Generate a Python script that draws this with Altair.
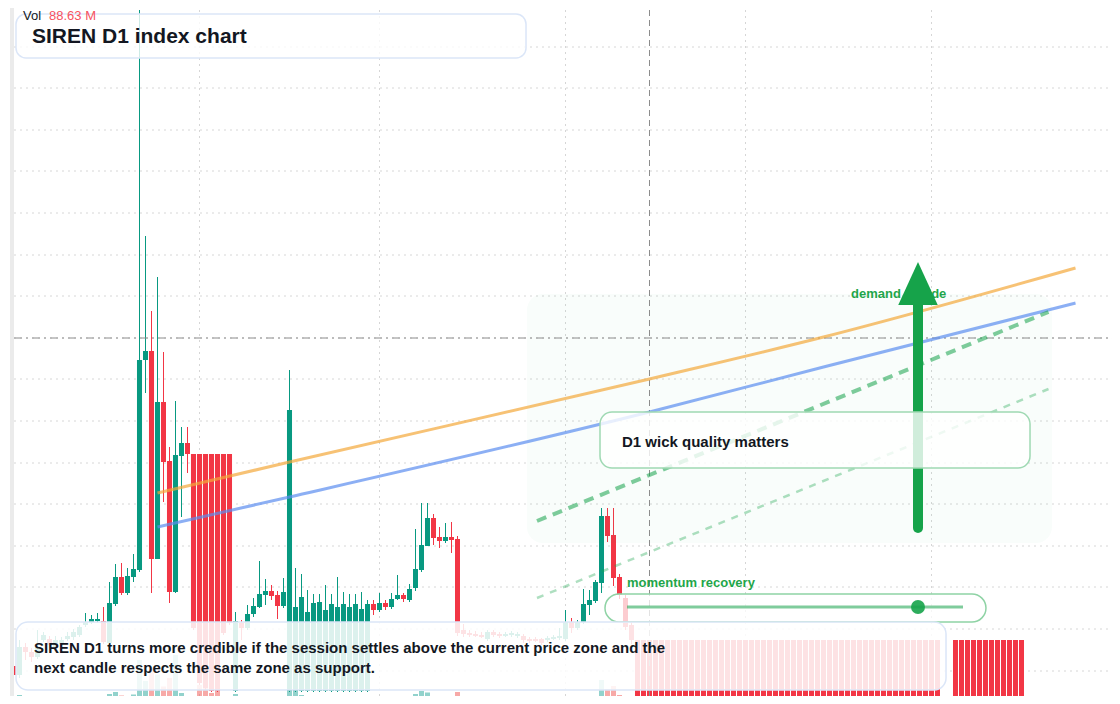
import altair as alt
import pandas as pd

# ---------------- data: daily candles (price), index = day number ----------------
idx_main = list(range(-1, 103))
open_main = [
    0.038,
    0.029, 0.057, 0.052, 0.047, 0.064, 0.065, 0.057, 0.060, 0.065, 0.067,
    0.069, 0.079, 0.082, 0.083, 0.083, 0.061, 0.100, 0.127, 0.111, 0.127,
    0.134, 0.344, 0.353, 0.145, 0.302, 0.243, 0.112, 0.248, 0.261, 0.250,
    0.250, 0.250, 0.250, 0.250, 0.250, 0.250, 0.013, 0.081, 0.076, 0.090,
    0.097, 0.109, 0.113, 0.109, 0.098, 0.013, 0.013, 0.013, 0.013, 0.013,
    0.013, 0.013, 0.013, 0.013, 0.013, 0.013, 0.013, 0.013, 0.013, 0.100,
    0.094, 0.101, 0.097, 0.105, 0.109, 0.104, 0.116, 0.134, 0.158, 0.186,
    0.167, 0.163, 0.167, 0.165, 0.074, 0.071, 0.070, 0.069, 0.065, 0.072,
    0.070, 0.068, 0.069, 0.068, 0.068, 0.065, 0.065, 0.065, 0.064, 0.065,
    0.066, 0.065, 0.082, 0.076, 0.082, 0.099, 0.103, 0.121, 0.188, 0.169,
    0.127, 0.106, 0.079,
]
high_main = [
    0.040,
    0.064, 0.061, 0.056, 0.074, 0.072, 0.068, 0.068, 0.067, 0.072, 0.075,
    0.079, 0.091, 0.089, 0.091, 0.097, 0.122, 0.140, 0.141, 0.136, 0.150,
    0.694, 0.468, 0.393, 0.427, 0.352, 0.257, 0.303, 0.277, 0.277, 0.250,
    0.250, 0.250, 0.250, 0.250, 0.250, 0.250, 0.092, 0.084, 0.099, 0.106,
    0.143, 0.125, 0.119, 0.113, 0.126, 0.334, 0.136, 0.130, 0.114, 0.110,
    0.110, 0.119, 0.110, 0.127, 0.112, 0.110, 0.110, 0.112, 0.104, 0.104,
    0.111, 0.104, 0.111, 0.129, 0.111, 0.120, 0.175, 0.201, 0.201, 0.190,
    0.177, 0.181, 0.182, 0.168, 0.080, 0.074, 0.073, 0.072, 0.074, 0.074,
    0.072, 0.072, 0.073, 0.072, 0.070, 0.067, 0.067, 0.066, 0.068, 0.069,
    0.076, 0.094, 0.086, 0.084, 0.115, 0.114, 0.124, 0.196, 0.196, 0.196,
    0.130, 0.109, 0.082,
]
low_main = [
    0.026,
    0.026, 0.044, 0.042, 0.045, 0.062, 0.056, 0.054, 0.058, 0.063, 0.064,
    0.067, 0.077, 0.080, 0.081, 0.060, 0.059, 0.098, 0.109, 0.109, 0.122,
    0.132, 0.311, 0.111, 0.145, 0.202, 0.101, 0.111, 0.187, 0.231, 0.074,
    0.019, 0.014, 0.012, 0.012, 0.069, 0.079, 0.012, 0.064, 0.074, 0.087,
    0.096, 0.099, 0.104, 0.085, 0.096, 0.012, 0.012, 0.012, 0.012, 0.012,
    0.012, 0.012, 0.012, 0.012, 0.012, 0.012, 0.012, 0.012, 0.012, 0.089,
    0.092, 0.094, 0.095, 0.104, 0.102, 0.102, 0.113, 0.132, 0.158, 0.159,
    0.156, 0.161, 0.151, 0.068, 0.067, 0.067, 0.067, 0.066, 0.063, 0.067,
    0.066, 0.067, 0.067, 0.066, 0.061, 0.061, 0.062, 0.059, 0.062, 0.064,
    0.064, 0.063, 0.071, 0.074, 0.080, 0.089, 0.101, 0.111, 0.162, 0.118,
    0.105, 0.074, 0.060,
]
close_main = [
    0.029,
    0.057, 0.052, 0.047, 0.057, 0.069, 0.059, 0.064, 0.064, 0.068, 0.072,
    0.077, 0.082, 0.085, 0.085, 0.062, 0.101, 0.127, 0.111, 0.128, 0.135,
    0.344, 0.353, 0.145, 0.302, 0.242, 0.112, 0.249, 0.261, 0.250, 0.076,
    0.021, 0.016, 0.013, 0.013, 0.071, 0.081, 0.083, 0.076, 0.090, 0.098,
    0.110, 0.113, 0.108, 0.098, 0.112, 0.294, 0.097, 0.107, 0.092, 0.101,
    0.102, 0.094, 0.100, 0.097, 0.100, 0.097, 0.100, 0.095, 0.100, 0.094,
    0.101, 0.097, 0.105, 0.109, 0.105, 0.115, 0.135, 0.159, 0.186, 0.166,
    0.163, 0.167, 0.164, 0.071, 0.070, 0.069, 0.068, 0.067, 0.072, 0.069,
    0.068, 0.070, 0.071, 0.070, 0.064, 0.063, 0.063, 0.061, 0.066, 0.067,
    0.068, 0.082, 0.076, 0.082, 0.100, 0.104, 0.122, 0.188, 0.168, 0.126,
    0.109, 0.077, 0.064,
]
vol_main = [
    20,
    36, 14, 12, 22, 10, 12, 14, 9, 11, 13,
    18, 24, 12, 10, 30, 40, 48, 34, 30, 38,
    176, 92, 140, 118, 70, 104, 196, 44, 32, 28,
    76, 64, 44, 56, 30, 24, 40, 18, 22, 16,
    30, 14, 12, 20, 18, 150, 52, 36, 28, 22,
    20, 26, 18, 24, 16, 18, 14, 20, 12, 10,
    12, 8, 10, 16, 8, 14, 40, 52, 46, 30,
    18, 14, 20, 48, 16, 8, 6, 6, 10, 6,
    6, 5, 6, 5, 8, 6, 5, 7, 6, 5,
    8, 22, 12, 10, 26, 14, 30, 96, 60, 72,
    36, 30, 24,
]

# sell-off block (days 103-153)
idx_drop = list(range(103, 154))
open_drop = [
    0.064, 0.064, 0.064, 0.064, 0.064, 0.064, 0.064, 0.064, 0.064, 0.064,
    0.064, 0.064, 0.064, 0.064, 0.064, 0.064, 0.064, 0.064, 0.064, 0.064,
    0.064, 0.064, 0.064, 0.064, 0.064, 0.064, 0.064, 0.064, 0.064, 0.064,
    0.064, 0.064, 0.064, 0.064, 0.064, 0.064, 0.064, 0.064, 0.064, 0.064,
    0.064, 0.064, 0.064, 0.064, 0.064, 0.064, 0.064, 0.064, 0.064, 0.064,
    0.064,
]
high_drop = list(open_drop)
close_drop = [
    0.007, 0.006, 0.005, 0.006, 0.004, 0.006, 0.004, 0.003, 0.005, 0.004,
    0.005, 0.003, 0.004, 0.006, 0.004, 0.005, 0.003, 0.004, 0.005, 0.004,
    0.006, 0.004, 0.003, 0.005, 0.004, 0.005, 0.004, 0.003, 0.005, 0.004,
    0.006, 0.005, 0.004, 0.003, 0.004, 0.005, 0.004, 0.006, 0.003, 0.004,
    0.005, 0.004, 0.003, 0.005, 0.004, 0.006, 0.004, 0.005, 0.003, 0.004,
    0.005,
]
low_drop = [
    0.004, 0.003, 0.002, 0.004, 0.001, 0.004, 0.002, 0.001, 0.002, 0.001,
    0.003, 0.001, 0.002, 0.003, 0.002, 0.003, 0.001, 0.002, 0.003, 0.001,
    0.003, 0.002, 0.001, 0.003, 0.002, 0.003, 0.002, 0.001, 0.002, 0.002,
    0.003, 0.002, 0.002, 0.001, 0.002, 0.003, 0.001, 0.004, 0.001, 0.002,
    0.003, 0.002, 0.001, 0.002, 0.002, 0.003, 0.002, 0.002, 0.001, 0.002,
    0.003,
]
vol_drop = [
    28, 24, 88.63, 40, 36, 30, 34, 28, 26, 32,
    30, 28, 26, 30, 24, 28, 26, 24, 30, 28,
    26, 24, 22, 26, 28, 24, 26, 22, 24, 26,
    28, 24, 22, 26, 24, 22, 28, 26, 24, 22,
    26, 24, 22, 28, 26, 24, 22, 26, 24, 28,
    26,
]

# last sessions (days 156-167)
idx_tail = list(range(156, 168))
open_tail = [0.064, 0.064, 0.064, 0.064, 0.064, 0.064, 0.064, 0.064, 0.064, 0.064, 0.064, 0.064]
high_tail = [0.064, 0.064, 0.064, 0.064, 0.064, 0.064, 0.064, 0.064, 0.064, 0.064, 0.064, 0.064]
close_tail = [0.001, 0.001, 0.001, 0.001, 0.001, 0.001, 0.001, 0.001, 0.001, 0.001, 0.001, 0.001]
low_tail = [0.000, 0.000, 0.000, 0.000, 0.000, 0.000, 0.000, 0.000, 0.000, 0.000, 0.000, 0.000]
vol_tail = [40, 36, 42, 38, 34, 40, 36, 44, 38, 34, 40, 42]

# grid / guides
grid_prices = [0.699, 0.657, 0.616, 0.574, 0.533, 0.491, 0.449, 0.408, 0.366,
               0.325, 0.283, 0.241, 0.200, 0.158, 0.117, 0.075, 0.033]
grid_days = [30, 60, 91, 121, 152]
cross_day = 105
cross_price = 0.366

# trend curves (day, price)
trend_days = [23, 45, 105, 134, 176]
orange_prices = [0.211, 0.242, 0.325, 0.367, 0.436]
blue_prices = [0.177, 0.207, 0.292, 0.337, 0.401]
dash_days = [86.25, 171.5]
dash_hi_prices = [0.183, 0.392]
dash_lo_prices = [0.106, 0.315]

# ---------------- scales ----------------
W, H = 1104, 688
XD = [-1.9167, 182.0833]
YD = [0.008, 0.696]
xs = alt.Scale(domain=XD, nice=False, zero=False)
ys = alt.Scale(domain=YD, nice=False, zero=False)
vs = alt.Scale(domain=[0, 800], range=[696, 496], nice=False, zero=False)


def X(f):
    return alt.X(f, type="quantitative", scale=xs, axis=None)


def Y(f):
    return alt.Y(f, type="quantitative", scale=ys, axis=None)


FONT = "Liberation Sans"
DARK = "#131722"
GREEN = "#16a34a"

df = pd.DataFrame({
    "i": idx_main + idx_drop + idx_tail,
    "o": open_main + open_drop + open_tail,
    "h": high_main + high_drop + high_tail,
    "l": low_main + low_drop + low_tail,
    "c": close_main + close_drop + close_tail,
    "v": vol_main + vol_drop + vol_tail,
})
df["xl"] = df["i"] - 0.42
df["xr"] = df["i"] + 0.42
df["v0"] = 0

up = "datum.c >= datum.o"
candle_color = alt.condition(up, alt.value("#089981"), alt.value("#f23645"))
vol_color = alt.condition(up, alt.value("#26a69a"), alt.value("#ef5350"))

# ---------------- grid layer ----------------
gh = pd.DataFrame({"p": grid_prices, "x0": -0.917, "x1": XD[1]})
gv = pd.DataFrame({"i": grid_days, "p0": YD[0], "p1": YD[1]})
grid_h = alt.Chart(gh).mark_rule(color="#d6d6d6", strokeWidth=1, strokeDash=[2, 4]).encode(
    x=X("x0"), x2="x1:Q", y=Y("p"))
grid_v = alt.Chart(gv).mark_rule(color="#d6d6d6", strokeWidth=1, strokeDash=[2, 4]).encode(
    x=X("i"), y=Y("p0"), y2="p1:Q")
grid_layer = alt.layer(grid_h, grid_v)

# ---------------- volume layer ----------------
vol_layer = alt.Chart(df).mark_rect(opacity=0.5, clip=True).encode(
    x=X("xl"), x2="xr:Q",
    y=alt.Y("v:Q", scale=vs, axis=None), y2="v0:Q",
    color=vol_color)

# ---------------- main layer ----------------
wicks = alt.Chart(df).mark_rule(strokeWidth=1, clip=True).encode(
    x=X("i"), y=Y("h"), y2="l:Q", color=candle_color)
bodies = alt.Chart(df).mark_rect(clip=True).encode(
    x=X("xl"), x2="xr:Q", y=Y("o"), y2="c:Q", color=candle_color)


def box(x0, x1, p0, p1):
    return pd.DataFrame({"x0": [x0], "x1": [x1], "p0": [p0], "p1": [p1]})


def rect(d, **kw):
    return alt.Chart(d).mark_rect(**kw).encode(x=X("x0"), x2="x1:Q", y=Y("p0"), y2="p1:Q")


zone = rect(box(84.58, 172.08, 0.161, 0.410), cornerRadius=16, fill="#22c55e", fillOpacity=0.028)
strip = rect(box(-1.583, -0.917, YD[0], YD[1]), fill="#ebebeb")

cross_h = alt.Chart(pd.DataFrame({"x0": [-0.917], "x1": [XD[1]], "p": [cross_price]})).mark_rule(
    color="#8c8c8c", strokeWidth=1, strokeDash=[8, 4, 2, 4]).encode(x=X("x0"), x2="x1:Q", y=Y("p"))
cross_v = alt.Chart(pd.DataFrame({"i": [cross_day], "p0": [YD[0]], "p1": [YD[1]]})).mark_rule(
    color="#8c8c8c", strokeWidth=1, strokeDash=[6, 4]).encode(x=X("i"), y=Y("p0"), y2="p1:Q")


def line(days, prices, **kw):
    return alt.Chart(pd.DataFrame({"i": days, "p": prices})).mark_line(**kw).encode(x=X("i"), y=Y("p"))


orange = line(trend_days, orange_prices, color="#f3a83b", opacity=0.7, strokeWidth=3, interpolate="monotone")
blue = line(trend_days, blue_prices, color="#5b8def", opacity=0.7, strokeWidth=3, interpolate="monotone")
dash_hi = line(dash_days, dash_hi_prices, color=GREEN, opacity=0.55, strokeWidth=4, strokeDash=[10, 7])
dash_lo = line(dash_days, dash_lo_prices, color=GREEN, opacity=0.35, strokeWidth=2.5, strokeDash=[7, 7])


def label(i, p, t, size, color=DARK, weight="bold"):
    return alt.Chart(pd.DataFrame({"i": [i], "p": [p], "t": [t]})).mark_text(
        align="left", baseline="alphabetic", font=FONT, fontSize=size, fontWeight=weight,
        color=color).encode(x=X("i"), y=Y("p"), text="t:N")


demand_txt = label(138.58, 0.406, "demand upside", 13, color="#1fa64a")
shaft = alt.Chart(pd.DataFrame({"i": [149.75], "p0": [0.176], "p1": [0.405]})).mark_rule(
    color=GREEN, strokeWidth=10, strokeCap="round").encode(x=X("i"), y=Y("p0"), y2="p1:Q")
head = alt.Chart(pd.DataFrame({"i": [149.75], "p": [0.4205]})).mark_point(
    shape="M0,-1.089L1,1.089L-1,1.089Z", size=1560, filled=True, color=GREEN, opacity=1,
    strokeWidth=0).encode(x=X("i"), y=Y("p"))

d1_box = rect(box(96.75, 168.42, 0.236, 0.292), cornerRadius=12, fill="white", fillOpacity=0.8,
              stroke="#9fd9b3", strokeWidth=1.5)
d1_txt = label(100.42, 0.257, "D1 wick quality matters", 15)

mom_txt = label(101.25, 0.117, "momentum recovery", 13, color="#1fa64a")
capsule = rect(box(97.58, 161.08, 0.082, 0.110), cornerRadius=14, fill="white", fillOpacity=0.75,
               stroke="#8fd3a5", strokeWidth=1.5)
mom_line = line([101.25, 157.25], [0.097, 0.097], color=GREEN, opacity=0.55, strokeWidth=3)
mom_dot = alt.Chart(pd.DataFrame({"i": [149.75], "p": [0.097]})).mark_point(
    shape="circle", size=196, filled=True, color=GREEN, opacity=0.9, strokeWidth=0).encode(
    x=X("i"), y=Y("p"))

note_box = rect(box(-0.583, 154.42, 0.014, 0.082), cornerRadius=12, fill="white", fillOpacity=0.86,
                stroke="#dbe6f8", strokeWidth=1.5)
note_lines = pd.DataFrame({
    "i": [2.417, 2.417],
    "p": [0.051, 0.031],
    "t": ["SIREN D1 turns more credible if the session settles above the current price zone and the",
          "next candle respects the same zone as support."],
})
note_txt = alt.Chart(note_lines).mark_text(
    align="left", baseline="alphabetic", font=FONT, fontSize=15, fontWeight="bold", color=DARK
).encode(x=X("i"), y=Y("p"), text="t:N")

title_box = rect(box(-0.583, 84.42, 0.646, 0.690), cornerRadius=10, fill="white", fillOpacity=0.8,
                 stroke="#dbe6f8", strokeWidth=1.5)
title_txt = label(2.083, 0.661, "SIREN D1 index chart", 21)

vol_lbl = label(0.583, 0.684, "Vol", 13, weight="normal")
vol_val = label(4.917, 0.684, "88.63 M", 13, color="#f7525f", weight="normal")

main_layer = alt.layer(
    wicks, bodies, zone, strip, cross_h, cross_v,
    orange, blue, dash_hi, dash_lo, demand_txt, shaft, head,
    d1_box, d1_txt, mom_txt, capsule, mom_line, mom_dot,
    note_box, note_txt, title_box, title_txt, vol_lbl, vol_val,
)

chart = alt.layer(grid_layer, vol_layer, main_layer).resolve_scale(y="independent").properties(
    width=W, height=H, padding=0, autosize=alt.AutoSizeParams(type="none"), background="white"
).configure_view(strokeWidth=0)

chart.save("out.html", embed_options={"renderer": "svg", "actions": False})
